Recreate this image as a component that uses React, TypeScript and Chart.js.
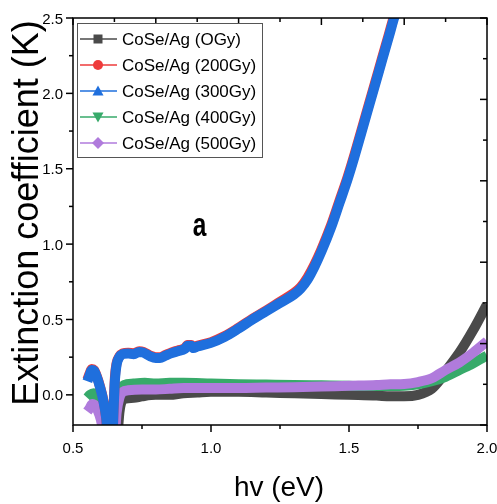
import React, { useEffect, useRef } from 'react';
import { Chart, registerables } from 'chart.js';

Chart.register(...registerables);

const FONT = '"Liberation Sans", Arial, sans-serif';

const seriesLabels = ['CoSe/Ag (OGy)', 'CoSe/Ag (200Gy)', 'CoSe/Ag (300Gy)', 'CoSe/Ag (400Gy)', 'CoSe/Ag (500Gy)'];
const seriesColors = ['#4a4a4a', '#ee3b3b', '#1f6fdd', '#37aa6a', '#b07bdc'];
const seriesMarkers = ['square', 'circle', 'triangle', 'triangleDown', 'diamond'];

const xTickValues = [0.5, 1.0, 1.5, 2.0];
const yTickValues = [0, 0.5, 1.0, 1.5, 2.0, 2.5];
const xMin = 0.5;
const xMax = 2.0;
const yMin = -0.2;
const yMax = 2.5;

// 0 Gy
const hv0 = [0.655, 0.662, 0.668, 0.675, 0.69, 0.72, 0.75, 0.8, 0.85, 0.9, 0.95, 1.0, 1.1, 1.2, 1.3, 1.4, 1.5, 1.6, 1.65, 1.7, 1.75, 1.8, 1.83, 1.86, 1.9, 1.95, 2.0];
const k0 = [-0.3, -0.25, -0.12, -0.05, -0.025, -0.02, -0.01, 0.0, 0.0, 0.01, 0.015, 0.02, 0.02, 0.015, 0.01, 0.005, 0.0, -0.005, -0.01, -0.01, 0.0, 0.04, 0.1, 0.18, 0.28, 0.43, 0.6];

// 200 Gy and 300 Gy share the same photon energies
const hv23 = [0.552, 0.56, 0.568, 0.576, 0.586, 0.598, 0.61, 0.62, 0.628, 0.642, 0.647, 0.652, 0.658, 0.668, 0.68, 0.7, 0.72, 0.74, 0.755, 0.78, 0.8, 0.815, 0.835, 0.855, 0.88, 0.905, 0.915, 0.928, 0.936, 0.95, 1.0, 1.05, 1.1, 1.15, 1.2, 1.25, 1.3, 1.325, 1.35, 1.375, 1.4, 1.435, 1.465, 1.495, 1.52, 1.545, 1.57, 1.595, 1.62, 1.645, 1.665, 1.69];
const k2 = [0.1, 0.14, 0.172, 0.166, 0.125, 0.055, -0.035, -0.15, -0.3, -0.3, -0.08, 0.12, 0.21, 0.255, 0.275, 0.28, 0.275, 0.29, 0.285, 0.26, 0.25, 0.25, 0.265, 0.28, 0.295, 0.31, 0.33, 0.33, 0.315, 0.325, 0.35, 0.39, 0.445, 0.505, 0.56, 0.618, 0.675, 0.715, 0.78, 0.865, 0.965, 1.125, 1.285, 1.445, 1.595, 1.755, 1.915, 2.075, 2.235, 2.395, 2.525, 2.67];
const k3 = [0.09, 0.13, 0.165, 0.16, 0.12, 0.05, -0.04, -0.15, -0.3, -0.3, -0.1, 0.1, 0.2, 0.25, 0.27, 0.275, 0.27, 0.285, 0.28, 0.255, 0.245, 0.245, 0.26, 0.275, 0.29, 0.305, 0.325, 0.325, 0.31, 0.32, 0.345, 0.385, 0.44, 0.5, 0.555, 0.61, 0.665, 0.705, 0.765, 0.85, 0.95, 1.11, 1.27, 1.43, 1.58, 1.74, 1.9, 2.06, 2.22, 2.38, 2.51, 2.65];

// 400 Gy
const hv4 = [0.552, 0.562, 0.575, 0.59, 0.605, 0.618, 0.626, 0.645, 0.652, 0.66, 0.67, 0.685, 0.72, 0.76, 0.8, 0.85, 0.9, 1.0, 1.1, 1.2, 1.3, 1.4, 1.5, 1.6, 1.7, 1.75, 1.8, 1.85, 1.9, 1.95, 2.0];
const k4 = [-0.02, 0.0, 0.01, -0.02, -0.09, -0.2, -0.3, -0.3, -0.15, -0.02, 0.04, 0.065, 0.075, 0.08, 0.075, 0.08, 0.08, 0.075, 0.07, 0.068, 0.066, 0.063, 0.06, 0.058, 0.06, 0.07, 0.09, 0.12, 0.165, 0.21, 0.26];

// 500 Gy
const hv5 = [0.552, 0.56, 0.57, 0.58, 0.595, 0.605, 0.612, 0.65, 0.658, 0.668, 0.68, 0.7, 0.75, 0.8, 0.85, 0.9, 1.0, 1.1, 1.2, 1.3, 1.4, 1.5, 1.6, 1.65, 1.7, 1.75, 1.8, 1.85, 1.9, 1.95, 2.0];
const k5 = [-0.11, -0.09, -0.06, -0.07, -0.13, -0.2, -0.3, -0.3, -0.12, -0.02, 0.02, 0.03, 0.035, 0.035, 0.04, 0.045, 0.045, 0.045, 0.048, 0.05, 0.055, 0.06, 0.065, 0.07, 0.072, 0.085, 0.11, 0.165, 0.215, 0.28, 0.355];

const seriesX = [hv0, hv23, hv23, hv4, hv5];
const seriesY = [k0, k2, k3, k4, k5];
const drawOrder = [4, 1, 0, 3, 2]; // lower = drawn on top

const xTitle = 'hv (eV)';
const yTitle = 'Extinction coefficient (K)';
const panelLabel = 'a';

function drawMarker(ctx: CanvasRenderingContext2D, kind: string, x: number, y: number, color: string) {
  ctx.save();
  ctx.fillStyle = color;
  ctx.beginPath();
  if (kind === 'square') {
    ctx.rect(x - 4.5, y - 4.5, 9, 9);
  } else if (kind === 'circle') {
    ctx.arc(x, y, 5, 0, Math.PI * 2);
  } else if (kind === 'triangle') {
    ctx.moveTo(x, y - 5.5);
    ctx.lineTo(x + 5.5, y + 4.5);
    ctx.lineTo(x - 5.5, y + 4.5);
    ctx.closePath();
  } else if (kind === 'triangleDown') {
    ctx.moveTo(x, y + 5.5);
    ctx.lineTo(x + 5.5, y - 4.5);
    ctx.lineTo(x - 5.5, y - 4.5);
    ctx.closePath();
  } else {
    ctx.moveTo(x, y - 6);
    ctx.lineTo(x + 6, y);
    ctx.lineTo(x, y + 6);
    ctx.lineTo(x - 6, y);
    ctx.closePath();
  }
  ctx.fill();
  ctx.restore();
}

const decorPlugin = {
  id: 'decor',
  afterDraw(chart: any) {
    const ctx: CanvasRenderingContext2D = chart.ctx;
    const { left, right, top, bottom } = chart.chartArea;
    const xs = chart.scales.x;
    const ys = chart.scales.y;
    ctx.save();
    ctx.strokeStyle = '#000';
    ctx.lineWidth = 1.5;
    ctx.strokeRect(left, top, right - left, bottom - top);

    const tick = (x1: number, y1: number, x2: number, y2: number) => {
      ctx.beginPath();
      ctx.moveTo(x1, y1);
      ctx.lineTo(x2, y2);
      ctx.stroke();
    };
    // bottom axis (outward)
    for (let v = xMin; v <= xMax + 1e-9; v += 0.25) {
      const px = xs.getPixelForValue(v);
      const major = Math.abs(v * 2 - Math.round(v * 2)) < 1e-6;
      tick(px, bottom, px, bottom + (major ? 7 : 4));
    }
    // left axis (outward)
    for (let v = 0; v <= yMax + 1e-9; v += 0.25) {
      const py = ys.getPixelForValue(v);
      const major = Math.abs(v * 2 - Math.round(v * 2)) < 1e-6;
      tick(left, py, left - (major ? 7 : 4), py);
    }
    // top axis (inward), 5 major divisions
    for (let i = 0; i <= 10; i++) {
      const px = left + ((right - left) * i) / 10;
      tick(px, top, px, top + (i % 2 === 0 ? 7 : 4));
    }
    // right axis (inward), 5 major divisions
    for (let i = 0; i <= 10; i++) {
      const py = bottom - ((bottom - top) * i) / 10;
      tick(right, py, right - (i % 2 === 0 ? 7 : 4), py);
    }

    // tick labels
    ctx.fillStyle = '#000';
    ctx.font = `15px ${FONT}`;
    ctx.textBaseline = 'alphabetic';
    ctx.textAlign = 'center';
    xTickValues.forEach((v) => {
      ctx.fillText(v.toFixed(1), xs.getPixelForValue(v), 453);
    });
    ctx.textAlign = 'right';
    yTickValues.forEach((v) => {
      ctx.fillText(v.toFixed(1), 63, ys.getPixelForValue(v) + 5.5);
    });

    // legend
    const lx = 77, ly = 23, lw = 185, lh = 134;
    ctx.fillStyle = '#fff';
    ctx.fillRect(lx, ly, lw, lh);
    ctx.strokeStyle = '#555';
    ctx.lineWidth = 1;
    ctx.strokeRect(lx + 0.5, ly + 0.5, lw, lh);
    ctx.font = `17px ${FONT}`;
    ctx.textBaseline = 'middle';
    ctx.textAlign = 'left';
    for (let i = 0; i < seriesLabels.length; i++) {
      const yy = 39 + 26 * i;
      ctx.strokeStyle = seriesColors[i];
      ctx.lineWidth = 1.5;
      ctx.beginPath();
      ctx.moveTo(80, yy);
      ctx.lineTo(117, yy);
      ctx.stroke();
      drawMarker(ctx, seriesMarkers[i], 98, yy, seriesColors[i]);
      ctx.fillStyle = '#000';
      ctx.fillText(seriesLabels[i], 122, yy + 1);
    }

    // axis titles
    ctx.fillStyle = '#000';
    ctx.textBaseline = 'alphabetic';
    ctx.textAlign = 'center';
    ctx.font = `28px ${FONT}`;
    ctx.fillText(xTitle, 279, 496);

    ctx.save();
    ctx.translate(38, 213);
    ctx.rotate(-Math.PI / 2);
    ctx.font = `36px ${FONT}`;
    ctx.fillText(yTitle, 0, 0);
    ctx.restore();

    // panel label
    ctx.save();
    ctx.translate(199.5, 236);
    ctx.scale(0.72, 1);
    ctx.font = `bold 34px ${FONT}`;
    ctx.fillText(panelLabel, 0, 0);
    ctx.restore();

    ctx.restore();
  },
};

export default function App() {
  const canvasRef = useRef<HTMLCanvasElement | null>(null);

  useEffect(() => {
    document.body.style.margin = '0';
    const canvas = canvasRef.current;
    if (!canvas) return;
    const datasets = seriesLabels.map((label, i) => ({
      label,
      data: seriesX[i].map((x, j) => ({ x, y: seriesY[i][j] })),
      borderColor: seriesColors[i],
      backgroundColor: seriesColors[i],
      borderWidth: 10,
      pointRadius: 0,
      cubicInterpolationMode: 'monotone' as const,
      borderJoinStyle: 'round' as const,
      fill: false,
      clip: 0,
      order: drawOrder[i],
    }));
    const chart = new Chart(canvas, {
      type: 'line',
      data: { datasets },
      options: {
        animation: false,
        responsive: true,
        maintainAspectRatio: false,
        layout: { padding: { top: 18, right: 10, left: 0, bottom: 0 } },
        plugins: { legend: { display: false }, tooltip: { enabled: false } },
        scales: {
          x: {
            type: 'linear',
            min: xMin,
            max: xMax,
            grid: { display: false, drawTicks: false },
            border: { display: false },
            afterBuildTicks: (s: any) => { s.ticks = xTickValues.map((v) => ({ value: v })); },
            afterFit: (s: any) => { s.height = 79; s.paddingLeft = 0; s.paddingRight = 0; },
            ticks: { display: false },
          },
          y: {
            type: 'linear',
            min: yMin,
            max: yMax,
            grid: { display: false, drawTicks: false },
            border: { display: false },
            afterBuildTicks: (s: any) => { s.ticks = yTickValues.map((v) => ({ value: v })); },
            afterFit: (s: any) => { s.width = 73; s.paddingTop = 0; s.paddingBottom = 0; },
            ticks: { display: false },
          },
        },
      },
      plugins: [decorPlugin],
    });
    return () => chart.destroy();
  }, []);

  return (
    <div style={{ position: 'relative', width: 497, height: 504 }}>
      <canvas ref={canvasRef} />
    </div>
  );
}
